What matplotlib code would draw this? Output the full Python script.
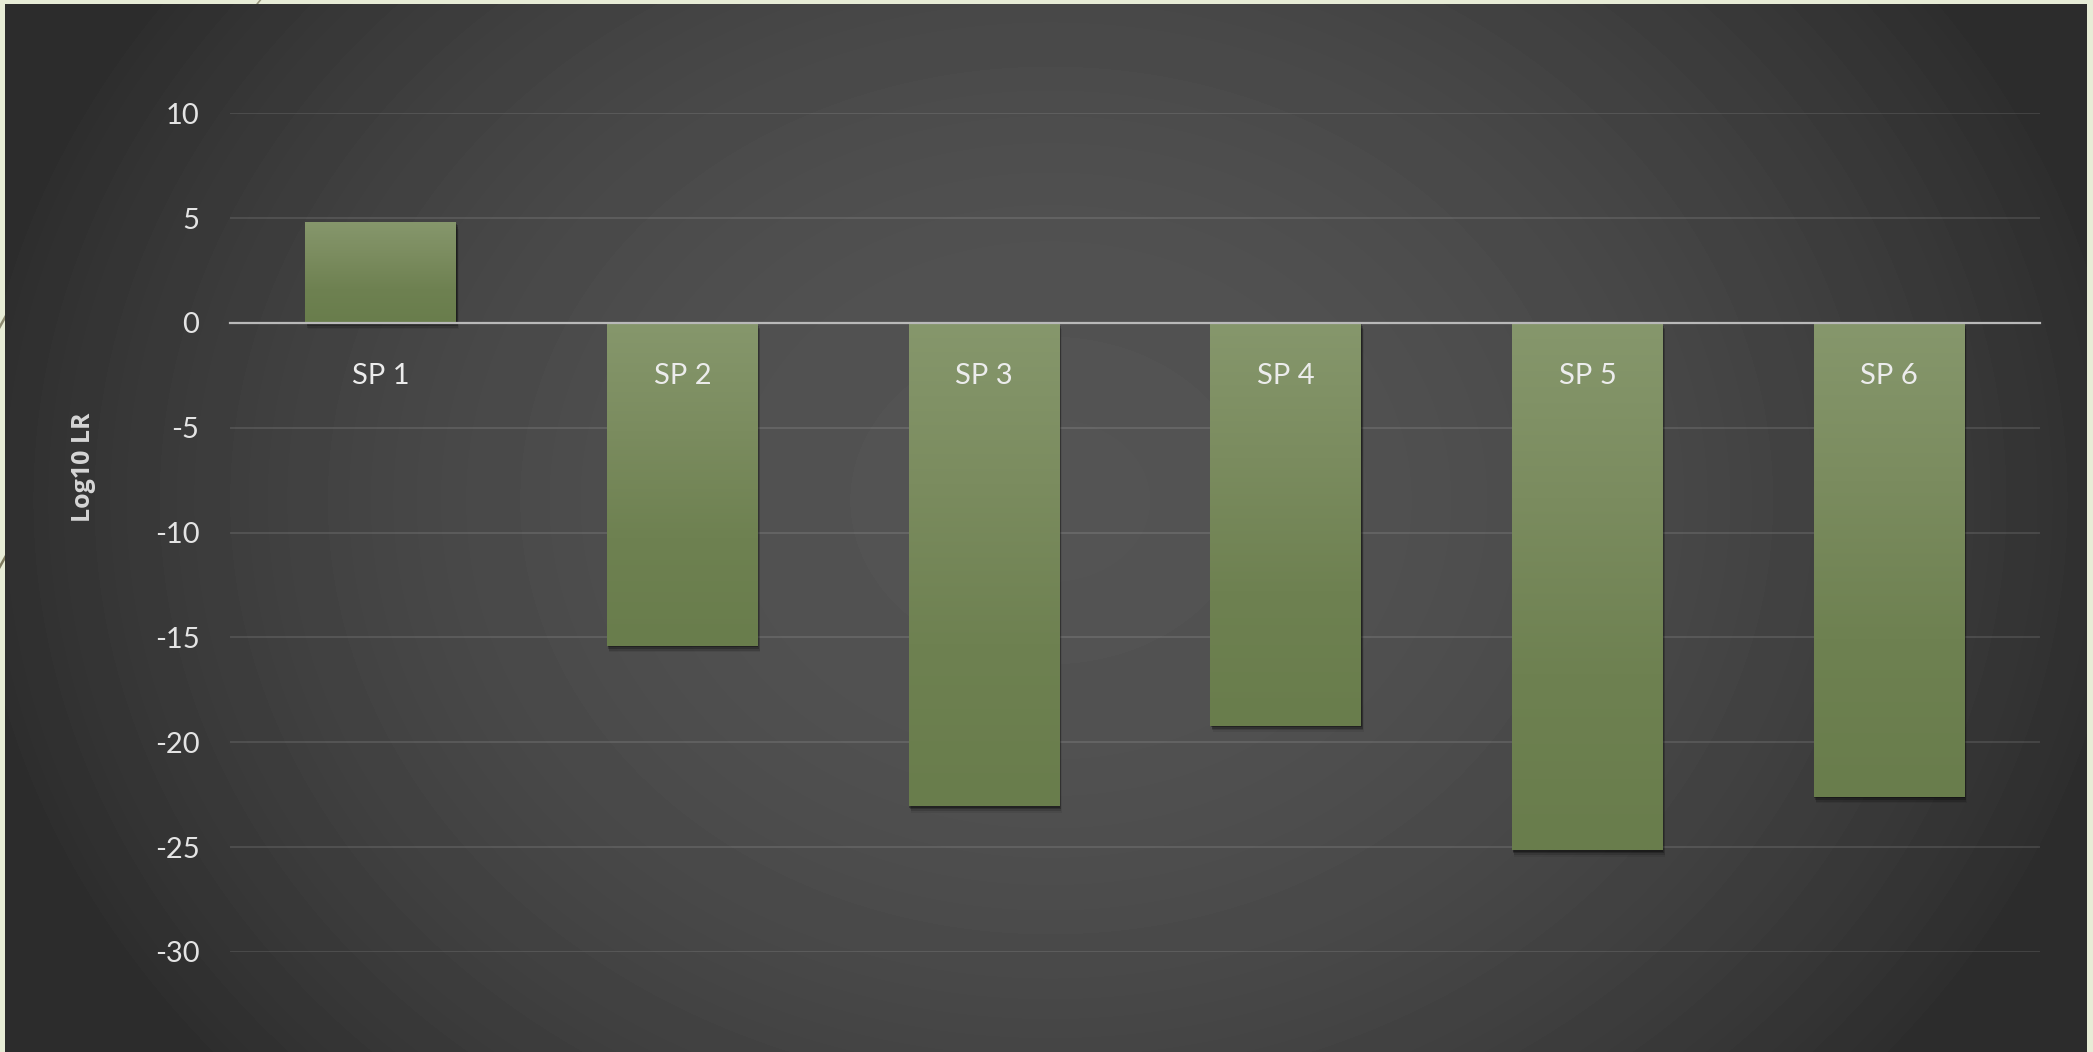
import numpy as np
import matplotlib
matplotlib.use("Agg")
import matplotlib.pyplot as plt
import matplotlib.patheffects as pe
from matplotlib.patches import Rectangle
from matplotlib.colors import LinearSegmentedColormap

plt.rcParams['axes.unicode_minus'] = False
plt.rcParams['font.family'] = ['Lato', 'DejaVu Sans']

# samples and their log10 likelihood ratios
samples = ["SP 1", "SP 2", "SP 3", "SP 4", "SP 5", "SP 6"]
log10_lr = [4.8, -15.4, -23.05, -19.2, -25.15, -22.6]
yticks = [10, 5, 0, -5, -10, -15, -20, -25, -30]

W, H = 2093, 1052
fig = plt.figure(figsize=(W/100, H/100), dpi=100)

#%% slide background: cream frame + dark radial panel
bg = fig.add_axes([0, 0, 1, 1])
bg.set_xlim(0, W)
bg.set_ylim(H, 0)
bg.axis('off')
bg.add_artist(plt.Rectangle((0, 0), W, H, color='#e7ecd6', zorder=0))
bg.plot([262, 228], [-2, 40], color='#9a987f', lw=1.2, zorder=1)
bg.plot([-2, 12], [330, 305], color='#8c8a70', lw=1.8, zorder=1)
bg.plot([-2, 12], [570, 545], color='#7d7a5e', lw=1.8, zorder=1)

px0, px1, py0, py1 = 5, 2087, 4, 1052
yy, xx = np.mgrid[py0:py1, px0:px1]
r2 = ((xx - 1050) / 1100.0)**2 + ((yy - 500) / 900.0)**2
shade = np.clip(84 - 40 * r2, 44, 84) / 255.0
bg.imshow(shade, cmap='gray', vmin=0, vmax=1, extent=(px0, px1, py1, py0),
          aspect='auto', interpolation='bilinear', zorder=2)

#%% chart
ax = fig.add_axes([230/W, 1 - 952/H, (2040 - 230)/W, (952 - 113.3)/H])
ax.patch.set_alpha(0)
ax.set_axisbelow(False)

for t in yticks:
    if t != 0:
        ax.axhline(t, color='white', alpha=0.11, lw=1.4, zorder=0.5)

bar_cmap = LinearSegmentedColormap.from_list('olive', ['#86976c', '#7b8c5f', '#6e8151', '#697d4c'])
width = 0.5
grad = np.linspace(0, 1, 256).reshape(-1, 1)
# soft drop shadow built from a few stacked offsets
shadow = [pe.SimplePatchShadow(offset=(0.4, -1.0), shadow_rgbFace='black', alpha=0.28),
          pe.SimplePatchShadow(offset=(0.9, -2.2), shadow_rgbFace='black', alpha=0.22),
          pe.SimplePatchShadow(offset=(1.3, -3.4), shadow_rgbFace='black', alpha=0.14),
          pe.SimplePatchShadow(offset=(1.7, -4.6), shadow_rgbFace='black', alpha=0.07),
          pe.Normal()]
for i, v in enumerate(log10_lr):
    x0 = i - width/2
    y0, y1 = min(0, v), max(0, v)
    rect = Rectangle((x0, y0), width, y1 - y0, facecolor='#6e8151', edgecolor='none',
                     zorder=2, path_effects=shadow)
    ax.add_patch(rect)
    im = ax.imshow(grad, cmap=bar_cmap, extent=(x0, x0 + width, y0, y1), origin='upper',
                   aspect='auto', interpolation='bilinear', zorder=2.1)
    im.set_clip_path(rect)

ax.set_xlim(-0.5, len(samples) - 0.5)
ax.set_ylim(-30, 10)
ax.set_yticks(yticks)
ax.set_yticklabels([str(t) for t in yticks])
ax.set_xticks(range(len(samples)))
ax.set_xticklabels(samples)

for s in ['top', 'right', 'left']:
    ax.spines[s].set_visible(False)
ax.spines['bottom'].set_position(('data', 0))
ax.spines['bottom'].set_color('#b9b9b9')
ax.spines['bottom'].set_linewidth(1.6)
ax.spines['bottom'].set_zorder(3)
ax.tick_params(axis='y', length=0, pad=22, labelsize=21, labelcolor='#e4e4e4')
ax.tick_params(axis='x', length=0, pad=29, labelsize=21, labelcolor='#ececec')
for lab in ax.get_xticklabels():
    lab.set_zorder(4)

fig.text(83/W, 1 - 467/H, "Log10 LR", rotation=90, ha='center', va='center',
         fontsize=18, fontweight='bold', color='#d6d6d6', family=['Open Sans', 'DejaVu Sans'])

fig.savefig('out.png', dpi=100)
